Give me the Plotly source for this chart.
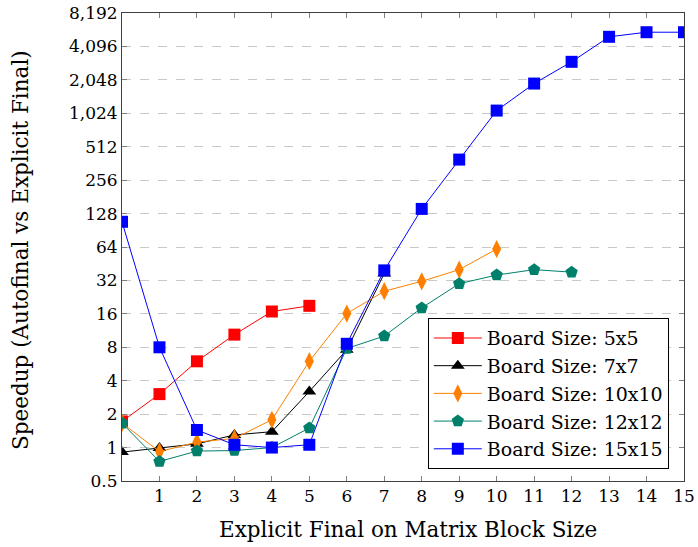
import plotly.graph_objects as go
import math

s5_x = [0, 1, 2, 3, 4, 5]
s5_y = [1.72, 3.03, 5.98, 10.4, 16.8, 18.9]

s7_x = [0, 1, 2, 3, 4, 5, 6, 7]
s7_y = [0.91, 0.99, 1.08, 1.3, 1.39, 3.2, 7.6, 37.0]

s10_x = [0, 1, 2, 3, 4, 5, 6, 7, 8, 9, 10]
s10_y = [1.66, 0.92, 1.12, 1.21, 1.78, 6.0, 16.1, 25.6, 31.4, 40.0, 61.4]

s12_x = [0, 1, 2, 3, 4, 5, 6, 7, 8, 9, 10, 11, 12]
s12_y = [1.66, 0.75, 0.93, 0.94, 1.0, 1.5, 7.8, 10.1, 18.1, 29.9, 35.8, 40.0, 38.0]

s15_x = list(range(0, 16))
s15_y = [108, 8.0, 1.44, 1.06, 1.0, 1.06, 8.6, 39.4, 141, 392, 1083, 1897, 2977, 5000, 5500, 5500]

y_tickvals = [0.5, 1, 2, 4, 8, 16, 32, 64, 128, 256, 512, 1024, 2048, 4096, 8192]
y_ticktext = ["0.5", "1", "2", "4", "8", "16", "32", "64", "128", "256", "512",
              "1,024", "2,048", "4,096", "8,192"]
x_tickvals = list(range(1, 16))

x_title = "Explicit Final on Matrix Block Size"
y_title = "Speedup (Autofinal vs Explicit Final)"

series = [
    ("Board Size: 5x5", s5_x, s5_y, "#ff0000", "square", 12),
    ("Board Size: 7x7", s7_x, s7_y, "#000000", "triangle-up", 12),
    ("Board Size: 10x10", s10_x, s10_y, "#ff8000", "diamond-tall", 13),
    ("Board Size: 12x12", s12_x, s12_y, "#00806b", "pentagon", 13),
    ("Board Size: 15x15", s15_x, s15_y, "#0000ff", "square", 12),
]

FONT = "DejaVu Serif"
FS_TICK = 17
FS_LEG = 19
FS_TITLE = 21.5

fig = go.Figure()
for name, xs, ys, col, sym, sz in series:
    fig.add_trace(go.Scatter(
        x=xs, y=ys, name=name, mode="lines+markers",
        line=dict(color=col, width=1),
        marker=dict(symbol=sym, size=sz, color=col, line=dict(width=0)),
    ))

fig.update_layout(
    width=698, height=547,
    margin=dict(l=122, r=14, t=13, b=66, autoexpand=False),
    paper_bgcolor="white", plot_bgcolor="white",
    font=dict(family=FONT, size=FS_TICK, color="black"),
    showlegend=True,
    legend=dict(
        x=0.973, y=0.348, xanchor="right", yanchor="top",
        bgcolor="white", bordercolor="black", borderwidth=1,
        font=dict(family=FONT, size=FS_LEG, color="black"),
        itemwidth=48, tracegroupgap=0,
    ),
    annotations=[
        dict(text=x_title, xref="paper", yref="paper", x=0.509, y=-0.1047,
             xanchor="center", yanchor="middle", showarrow=False,
             font=dict(family=FONT, size=FS_TITLE, color="black")),
        dict(text=y_title, xref="paper", yref="paper", x=-0.1797, y=0.4936,
             xanchor="center", yanchor="middle", showarrow=False, textangle=-90,
             font=dict(family=FONT, size=FS_TITLE, color="black")),
    ],
)
fig.update_xaxes(
    range=[0, 15], tickvals=x_tickvals, ticks="inside", ticklen=5,
    tickcolor="#808080", showgrid=False, showline=True, linecolor="#404040",
    linewidth=1, mirror="allticks", zeroline=False, automargin=False,
    tickfont=dict(family=FONT, size=FS_TICK, color="black"),
)
fig.update_yaxes(
    type="log", range=[math.log10(0.5), math.log10(8192)],
    tickvals=y_tickvals, ticktext=y_ticktext, ticks="inside", ticklen=5,
    tickcolor="#808080", showgrid=True, gridcolor="#c8c8c8", griddash="dash",
    gridwidth=1, showline=True, linecolor="#404040", linewidth=1,
    mirror="allticks", zeroline=False, automargin=False,
    tickfont=dict(family=FONT, size=FS_TICK, color="black"),
)
fig.write_html("out.html", config={"displayModeBar": False},
               post_script="document.body.style.margin='0px';")
